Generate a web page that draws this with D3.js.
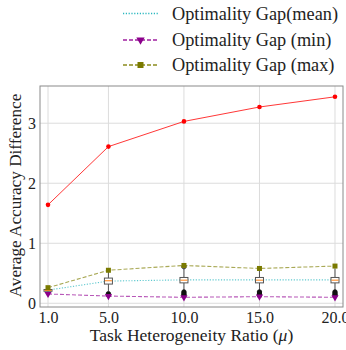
<!DOCTYPE html>
<html><head><meta charset="utf-8">
<script src="https://cdn.jsdelivr.net/npm/d3@7"></script>
<style>body{margin:0;background:#fff}svg{display:block}
svg text{font-family:'Liberation Serif','DejaVu Serif','Times New Roman',serif;}</style>
</head><body><svg id="c" width="346" height="350"></svg>
<script>
const ratios = [1, 5, 10, 15, 20];
const accDiff = [1.64, 2.61, 3.03, 3.27, 3.44];
const gapMean = [0.22, 0.37, 0.39, 0.39, 0.39];
const gapMin = [0.155, 0.12, 0.10, 0.11, 0.10];
const gapMax = [0.26, 0.55, 0.63, 0.58, 0.62];
// box plot summaries per ratio: [whisker low, q1, median, q3, whisker high]
const boxStats = [
  [0.17, 0.20, 0.215, 0.23, 0.25],
  [0.20, 0.32, 0.375, 0.42, 0.55],
  [0.22, 0.34, 0.385, 0.43, 0.58],
  [0.22, 0.34, 0.385, 0.43, 0.57],
  [0.22, 0.34, 0.385, 0.43, 0.58]
];
const boxFliers = [
  [],
  [0.16, 0.14],
  [0.61, 0.19, 0.17, 0.15, 0.13],
  [0.19, 0.17, 0.15, 0.13],
  [0.19, 0.17, 0.15, 0.13]
];
const xTicks = [1, 5, 10, 15, 20];
const yTicks = [0, 1, 2, 3];
const legendLabels = ["Optimality Gap(mean)", "Optimality Gap (min)", "Optimality Gap (max)"];

const svg = d3.select("#c");
const L = 40, R = 343, T = 86, B = 307;
const x = d3.scaleLinear().domain([0.47, 20.53]).range([L, R]);
const y = d3.scaleLinear().domain([-0.062, 3.62]).range([B, T]);

// grid
const g = svg.append("g");
g.selectAll(".gx").data(xTicks).join("line")
  .attr("x1", d => x(d)).attr("x2", d => x(d)).attr("y1", T).attr("y2", B)
  .attr("stroke", "#dcdcdc").attr("stroke-width", 1);
g.selectAll(".gy").data(yTicks).join("line")
  .attr("x1", L).attr("x2", R).attr("y1", d => y(d)).attr("y2", d => y(d))
  .attr("stroke", "#dcdcdc").attr("stroke-width", 1);

// frame
svg.append("rect").attr("x", L).attr("y", T).attr("width", R - L).attr("height", B - T)
  .attr("fill", "none").attr("stroke", "#8a8a8a").attr("stroke-width", 1);

// axes via d3 axis
const xAxis = d3.axisBottom(x).tickValues(xTicks).tickFormat(d3.format(".1f")).tickSize(0).tickPadding(5);
const yAxis = d3.axisLeft(y).tickValues(yTicks).tickFormat(d3.format("d")).tickSize(0).tickPadding(4);
const xa = svg.append("g").attr("transform", `translate(0,${B})`).call(xAxis);
const ya = svg.append("g").attr("transform", `translate(${L},0)`).call(yAxis);
[xa, ya].forEach(a => {
  a.select(".domain").remove();
  a.attr("font-family", null);
  a.selectAll("text").attr("font-size", 16).attr("fill", "#222");
});

// lines
function series(vals, color, dash) {
  const line = d3.line().x((d, i) => x(ratios[i])).y(d => y(d));
  svg.append("path").datum(vals).attr("d", line).attr("fill", "none")
    .attr("stroke", color).attr("stroke-width", 1.1).attr("stroke-dasharray", dash).attr("opacity", 0.75);
}
series(gapMean, "#2ab7bf", "1.2,1.6");
series(gapMin, "#a020a0", "4,2");
series(gapMax, "#8c8c1e", "4,2");

// box plots
const bw = 8;
boxStats.forEach((s, i) => {
  const cx = x(ratios[i]);
  const bg = svg.append("g");
  bg.append("line").attr("x1", cx).attr("x2", cx).attr("y1", y(s[0])).attr("y2", y(s[1])).attr("stroke", "#555");
  bg.append("line").attr("x1", cx).attr("x2", cx).attr("y1", y(s[3])).attr("y2", y(s[4])).attr("stroke", "#555");
  bg.append("rect").attr("x", cx - bw / 2).attr("y", y(s[3])).attr("width", bw).attr("height", y(s[1]) - y(s[3]))
    .attr("fill", "#fff").attr("stroke", "#555").attr("stroke-width", 1);
  bg.append("line").attr("x1", cx - bw / 2 + 0.5).attr("x2", cx + bw / 2 - 0.5).attr("y1", y(s[2])).attr("y2", y(s[2]))
    .attr("stroke", "#ff7f0e").attr("stroke-width", 1);
  bg.selectAll("circle").data(boxFliers[i]).join("circle")
    .attr("cx", cx).attr("cy", d => y(d)).attr("r", 2.2)
    .attr("fill", d => d > s[4] ? "none" : "#111").attr("stroke", "#111").attr("stroke-width", 0.8);
});

// markers
svg.selectAll(".mmin").data(gapMin).join("path")
  .attr("d", d3.symbol(d3.symbolTriangle, 22)).attr("transform", (d, i) => `translate(${x(ratios[i])},${y(d)}) rotate(180)`)
  .attr("fill", "#8b008b");
svg.selectAll(".mmax").data(gapMax).join("rect")
  .attr("x", (d, i) => x(ratios[i]) - 2.5).attr("y", d => y(d) - 2.5).attr("width", 5).attr("height", 5)
  .attr("fill", "#7a7a00");

// red line
svg.append("path").datum(accDiff)
  .attr("d", d3.line().x((d, i) => x(ratios[i])).y(d => y(d)))
  .attr("fill", "none").attr("stroke", "#ff2020").attr("stroke-width", 0.9);
svg.selectAll(".rd").data(accDiff).join("circle")
  .attr("cx", (d, i) => x(ratios[i])).attr("cy", d => y(d)).attr("r", 2.3).attr("fill", "#ff0000");

// axis labels
svg.append("text").attr("x", (L + R) / 2).attr("y", 341).attr("text-anchor", "middle")
  .attr("font-size", 17.5).attr("fill", "#222")
  .html("Task Heterogeneity Ratio (<tspan font-style='italic'>μ</tspan>)");
svg.append("text").attr("transform", `translate(21,195.5) rotate(-90)`).attr("text-anchor", "middle")
  .attr("font-size", 17.2).attr("fill", "#222")
  .text("Average Accuracy Difference");

// legend
const lg = svg.append("g");
const rows = [13.5, 40, 65];
const lcol = [["#2ab7bf", "1.2,1.6"], ["#a020a0", "4,2"], ["#8c8c1e", "4,2"]];
legendLabels.forEach((t, i) => {
  lg.append("line").attr("x1", 123).attr("x2", 158).attr("y1", rows[i]).attr("y2", rows[i])
    .attr("stroke", lcol[i][0]).attr("stroke-width", 1.3).attr("stroke-dasharray", lcol[i][1]);
  lg.append("text").attr("x", 172).attr("y", rows[i]).attr("dy", "0.35em")
    .attr("font-size", 18.3).attr("fill", "#222").text(t);
});
lg.append("path").attr("transform", `translate(140.5,${rows[1]}) rotate(180)`)
  .attr("d", d3.symbol(d3.symbolTriangle, 30)).attr("fill", "#8b008b");
lg.append("rect").attr("x", 137.5).attr("y", rows[2] - 3).attr("width", 6).attr("height", 6).attr("fill", "#7a7a00");
</script></body></html>
